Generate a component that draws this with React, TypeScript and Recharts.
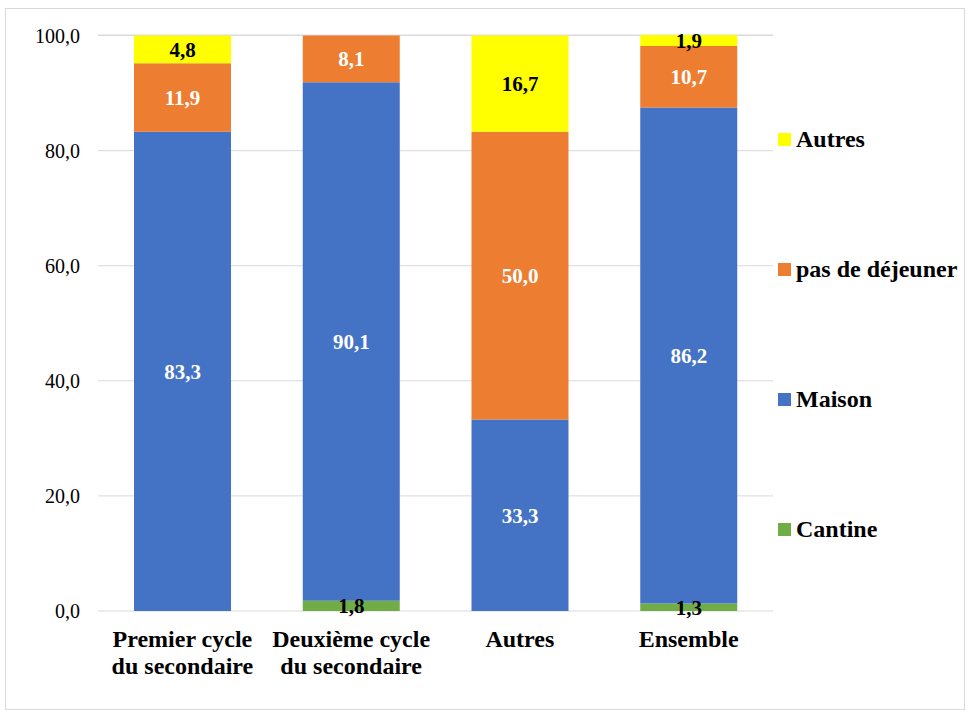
import React from 'react';
import { BarChart, Bar, XAxis, YAxis, CartesianGrid, Legend, LabelList } from 'recharts';

const categories = ['Premier cycle\ndu secondaire', 'Deuxième cycle\ndu secondaire', 'Autres', 'Ensemble'];
const cantine = [0, 1.8, 0, 1.3];
const maison = [83.3, 90.1, 33.3, 86.2];
const pasDeDejeuner = [11.9, 8.1, 50.0, 10.7];
const autres = [4.8, 0, 16.7, 1.9];
const yTicks = [0, 20, 40, 60, 80, 100];
const legendItems = [
  { label: 'Autres', color: '#FFFF00' },
  { label: 'pas de déjeuner', color: '#ED7D31' },
  { label: 'Maison', color: '#4472C4' },
  { label: 'Cantine', color: '#70AD47' },
];

const data = categories.map((c, i) => ({
  name: c,
  Cantine: cantine[i],
  Maison: maison[i],
  pas: pasDeDejeuner[i],
  Autres: autres[i],
}));

const FONT = 'Liberation Serif';
const fmt = (v: any) => (typeof v === 'number' && v > 0 ? v.toFixed(1).replace('.', ',') : '');

const XTick = (props: any) => {
  const { x, y, payload } = props;
  const lines = String(payload.value).split('\n');
  return (
    <g transform={`translate(${x},${y})`}>
      <text textAnchor="middle" fontFamily={FONT} fontWeight="bold" fontSize={24} fill="#000">
        {lines.map((l, i) => (
          <tspan key={i} x={0} dy={i === 0 ? 28 : 27}>{l}</tspan>
        ))}
      </text>
    </g>
  );
};

const LegendContent = () => (
  <div style={{ display: 'flex', flexDirection: 'column', gap: 108, fontFamily: FONT }}>
    {legendItems.map((it) => (
      <div key={it.label} style={{ display: 'flex', alignItems: 'center', height: 22 }}>
        <div style={{ width: 13, height: 13, background: it.color, marginRight: 5, flexShrink: 0 }} />
        <span style={{ fontWeight: 'bold', fontSize: 24, lineHeight: '22px', color: '#000', whiteSpace: 'nowrap', fontFamily: FONT }}>{it.label}</span>
      </div>
    ))}
  </div>
);

export default function App() {
  return (
    <div style={{ position: 'absolute', left: 5, top: 8, width: 958, height: 700, border: '1px solid #d9d9d9', background: '#fff', fontFamily: FONT }}>
      <BarChart width={958} height={700} data={data} margin={{ top: 26, right: 191, bottom: 28, left: 32 }} barSize={97}>
        <CartesianGrid vertical={false} stroke="#d9d9d9" />
        <XAxis dataKey="name" axisLine={false} tickLine={false} tick={<XTick />} height={70} interval={0} />
        <YAxis
          domain={[0, 100]}
          ticks={yTicks}
          axisLine={false}
          tickLine={false}
          width={60}
          tickMargin={12}
          tickFormatter={(v: number) => v.toFixed(1).replace('.', ',')}
          tick={{ fontFamily: FONT, fontSize: 20, fill: '#000' }}
        />
        <Legend
          layout="horizontal"
          verticalAlign="middle"
          align="center"
          content={<LegendContent />}
          wrapperStyle={{ position: 'absolute', left: 772, top: 119, width: 190 }}
        />
        <Bar dataKey="Cantine" name="Cantine" stackId="a" fill="#70AD47" isAnimationActive={false}>
          <LabelList dataKey="Cantine" position="center" formatter={fmt} fill="#000" fontWeight="bold" fontSize={21} fontFamily={FONT} />
        </Bar>
        <Bar dataKey="Maison" name="Maison" stackId="a" fill="#4472C4" isAnimationActive={false}>
          <LabelList dataKey="Maison" position="center" formatter={fmt} fill="#fff" fontWeight="bold" fontSize={21} fontFamily={FONT} />
        </Bar>
        <Bar dataKey="pas" name="pas de déjeuner" stackId="a" fill="#ED7D31" isAnimationActive={false}>
          <LabelList dataKey="pas" position="center" formatter={fmt} fill="#fff" fontWeight="bold" fontSize={21} fontFamily={FONT} />
        </Bar>
        <Bar dataKey="Autres" name="Autres" stackId="a" fill="#FFFF00" isAnimationActive={false}>
          <LabelList dataKey="Autres" position="center" formatter={fmt} fill="#000" fontWeight="bold" fontSize={21} fontFamily={FONT} />
        </Bar>
      </BarChart>
    </div>
  );
}
